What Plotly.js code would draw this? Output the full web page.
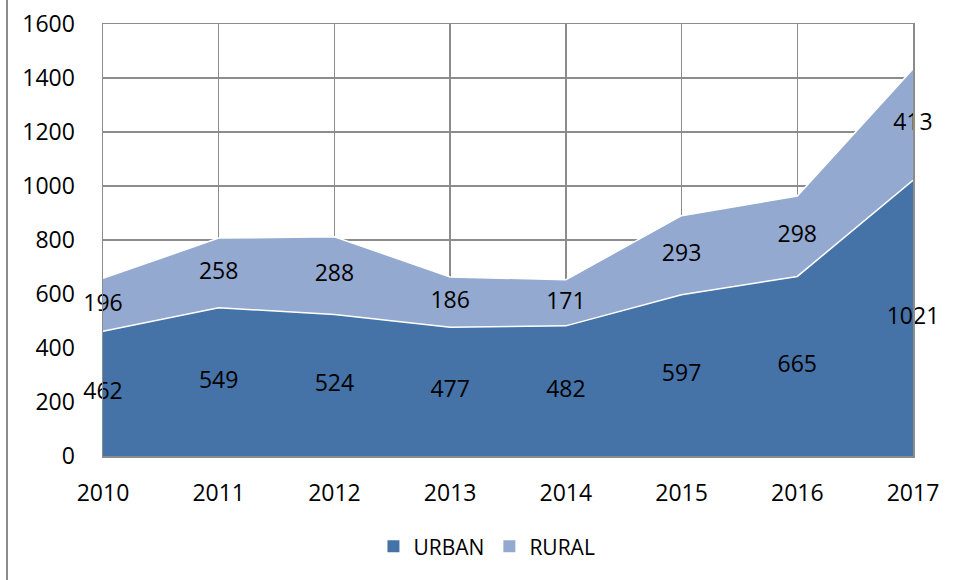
<!DOCTYPE html>
<html>
<head>
<meta charset="utf-8">
<script src="https://cdn.plot.ly/plotly-3.0.1.min.js"></script>
<style>html,body{margin:0;padding:0;background:#fff;}#chart{width:956px;height:580px;}</style>
</head>
<body>
<div id="chart"></div>
<script>
const years = ['2010','2011','2012','2013','2014','2015','2016','2017'];
const urban = [462, 549, 524, 477, 482, 597, 665, 1021];
const rural = [196, 258, 288, 186, 171, 293, 298, 413];
const seriesNames = ['URBAN', 'RURAL'];
const yTicks = [0, 200, 400, 600, 800, 1000, 1200, 1400, 1600];

const urbanColor = '#4572A7';
const ruralColor = '#94A9CF';
const font = 'Open Sans, Lato, sans-serif';
const fs = 23;

const urbanMid = urban.map(v => v / 2);
const ruralMid = urban.map((v, i) => v + rural[i] / 2);

const traces = [
  {x: years, y: urban, name: seriesNames[0], type: 'scatter', mode: 'lines', stackgroup: 'one', showlegend: false,
   fillcolor: urbanColor, line: {color: '#ffffff', width: 1.5}, hoverinfo: 'skip'},
  {x: years, y: rural, name: seriesNames[1], type: 'scatter', mode: 'lines', stackgroup: 'one', showlegend: false,
   fillcolor: ruralColor, line: {color: '#ffffff', width: 1.5}, hoverinfo: 'skip'},
  {x: years, y: urbanMid, text: urban.map(String), type: 'scatter', mode: 'text', showlegend: false,
   textposition: 'middle center', textfont: {family: font, size: fs, color: '#000'}, cliponaxis: false, hoverinfo: 'skip'},
  {x: years, y: ruralMid, text: rural.map(String), type: 'scatter', mode: 'text', showlegend: false,
   textposition: 'middle center', textfont: {family: font, size: fs, color: '#000'}, cliponaxis: false, hoverinfo: 'skip'},
  // legend-only square swatches
  {x: years, y: years.map(() => null), name: seriesNames[0], type: 'bar', marker: {color: urbanColor}, hoverinfo: 'skip'},
  {x: years, y: years.map(() => null), name: seriesNames[1], type: 'bar', marker: {color: ruralColor}, hoverinfo: 'skip'}
];

const layout = {
  width: 956, height: 580,
  margin: {l: 103, r: 43, t: 24, b: 124},
  paper_bgcolor: '#fff', plot_bgcolor: '#fff',
  font: {family: font, size: fs, color: '#000'},
  showlegend: true,
  hovermode: false,
  xaxis: {
    type: 'category', range: [0, years.length - 1],
    showgrid: true, gridcolor: '#8c8c8c', gridwidth: 1.5,
    showline: true, linecolor: '#8c8c8c', linewidth: 1.5, mirror: true,
    ticks: '', ticklabelstandoff: 16,
    tickfont: {family: font, size: fs, color: '#000'},
    zeroline: false, fixedrange: true
  },
  yaxis: {
    range: [0, 1600], tickvals: yTicks,
    showgrid: true, gridcolor: '#8c8c8c', gridwidth: 1.5,
    showline: true, linecolor: '#8c8c8c', linewidth: 1.5, mirror: true,
    ticks: '', ticklabelstandoff: 22,
    tickfont: {family: font, size: fs, color: '#000'},
    zeroline: false, fixedrange: true
  },
  legend: {
    orientation: 'h', x: 0.474, xanchor: 'center', y: -0.21, yanchor: 'middle',
    font: {family: font, size: 21, color: '#000'},
    itemwidth: 30, traceorder: 'normal', bgcolor: 'rgba(0,0,0,0)'
  },
  shapes: [
    {type: 'line', xref: 'paper', yref: 'paper', x0: -96/810, x1: -96/810, y0: -124/432, y1: 24/432 + 1,
     line: {color: '#8c8c8c', width: 2}}
  ]
};

Plotly.newPlot('chart', traces, layout, {displayModeBar: false, staticPlot: true});
</script>
</body>
</html>
